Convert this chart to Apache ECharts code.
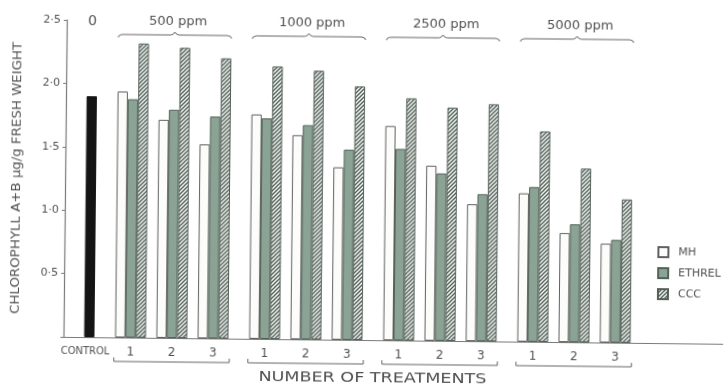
<!DOCTYPE html>
<html>
<head>
<meta charset="utf-8">
<script src="https://cdn.jsdelivr.net/npm/echarts@6/dist/echarts.min.js"></script>
<style>
  html, body { margin: 0; padding: 0; background: #ffffff; overflow: hidden; }
  #chart { width: 725px; height: 385px; transform: rotate(0.6deg); transform-origin: 50% 50%; }
</style>
</head>
<body>
<div id="chart"></div>
<script>
// Chlorophyll content after growth-regulator treatments
const groups = ['500 ppm', '1000 ppm', '2500 ppm', '5000 ppm'];
const treatments = ['1', '2', '3'];
const controlLabel = 'CONTROL';
const controlTopLabel = '0';
const controlValue = 1.90;
const seriesNames = ['MH', 'ETHREL', 'CCC'];
// one value per (concentration, treatment number), in order
const mhValues     = [1.94, 1.72, 1.53, 1.77, 1.61, 1.36, 1.69, 1.38, 1.08, 1.17, 0.86, 0.78];
const ethrelValues = [1.88, 1.80, 1.75, 1.74, 1.69, 1.50, 1.51, 1.32, 1.16, 1.22, 0.93, 0.81];
const cccValues    = [2.32, 2.29, 2.21, 2.15, 2.12, 2.00, 1.91, 1.84, 1.87, 1.66, 1.37, 1.13];
const yMax = 2.5;
const yStep = 0.5;
const yTitle = 'CHLOROPHYLL A+B µg/g FRESH WEIGHT';
const xTitle = 'NUMBER OF TREATMENTS';

const FONT = '"DejaVu Sans", sans-serif';
const INK = '#505050';

// Category slots: each slot holds one bar; empty slots make the gaps
const SLOTS_TOTAL = 64;
const slotLabels = [];
const ctrlData = [], mhData = [], ethData = [], cccData = [];
function addSlot(label) {
  slotLabels.push(label);
  ctrlData.push(null); mhData.push(null); ethData.push(null); cccData.push(null);
  return slotLabels.length - 1;
}
addSlot(''); addSlot('');
const ctrlSlot = addSlot(controlLabel);
ctrlData[ctrlSlot] = controlValue;
addSlot(''); addSlot('');
const groupSpans = [];
groups.forEach((g, gi) => {
  const start = slotLabels.length;
  treatments.forEach((t, ti) => {
    if (ti > 0) addSlot('');
    const k = gi * treatments.length + ti;
    mhData[addSlot('')] = mhValues[k];
    ethData[addSlot(t)] = ethrelValues[k];
    cccData[addSlot('')] = cccValues[k];
  });
  groupSpans.push([start, slotLabels.length - 1]);
  addSlot(''); addSlot('');
});
while (slotLabels.length < SLOTS_TOTAL) addSlot('');

// diagonal hatching for CCC
const hatch = document.createElement('canvas');
hatch.width = 4; hatch.height = 4;
(function () {
  const c = hatch.getContext('2d');
  c.fillStyle = '#f3f5f3';
  c.fillRect(0, 0, 4, 4);
  c.strokeStyle = '#4e5d55';
  c.lineWidth = 1.3;
  c.beginPath();
  c.moveTo(-1, 5); c.lineTo(5, -1);
  c.moveTo(-1, 1); c.lineTo(1, -1);
  c.moveTo(3, 5); c.lineTo(5, 3);
  c.stroke();
})();

function textWidth(str, size) {
  const c = document.createElement('canvas').getContext('2d');
  c.font = size + 'px ' + FONT;
  return c.measureText(str).width;
}

const chart = echarts.init(document.getElementById('chart'), null, { renderer: 'canvas' });

const barBase = {
  type: 'bar',
  barGap: '-100%',
  barCategoryGap: 0,
  silent: true,
  animation: false
};

chart.setOption({
  backgroundColor: '#ffffff',
  animation: false,
  grid: { left: 65, right: 0, top: 23, bottom: 45, outerBoundsMode: 'none', containLabel: false },
  legend: {
    data: seriesNames,
    orient: 'vertical',
    left: 653,
    top: 237,
    icon: 'rect',
    itemWidth: 10,
    itemHeight: 10,
    itemGap: 7,
    selectedMode: false,
    textStyle: { fontFamily: FONT, fontSize: 11, color: INK, lineHeight: 14, padding: [0, 0, 0, 5] }
  },
  xAxis: {
    type: 'category',
    data: slotLabels,
    axisLine: { show: true, lineStyle: { color: '#7a7a7a', width: 1.2 } },
    axisTick: { show: false },
    axisLabel: {
      interval: 0,
      margin: 9,
      fontFamily: FONT,
      fontSize: 12,
      color: INK,
      formatter: v => v === controlLabel ? '{c|' + v + '}' : v,
      rich: {
        c: {
          fontFamily: '"DejaVu Sans Condensed", "Liberation Sans Narrow", "DejaVu Sans", sans-serif',
          fontSize: 11,
          color: INK,
          padding: [0, 8, 0, 0]
        }
      }
    },
    splitLine: { show: false }
  },
  yAxis: {
    type: 'value',
    min: 0,
    max: yMax,
    interval: yStep,
    splitLine: { show: false },
    axisLine: { show: true, lineStyle: { color: '#7a7a7a', width: 1.2 } },
    axisTick: { show: true, length: 3, lineStyle: { color: '#7a7a7a' } },
    axisLabel: {
      margin: 6,
      fontFamily: FONT,
      fontSize: 11,
      color: INK,
      formatter: v => v === 0 ? '' : v.toFixed(1).replace('.', '·')
    }
  },
  series: [
    Object.assign({}, barBase, {
      name: 'Control', data: ctrlData,
      itemStyle: { color: '#141414', borderColor: '#141414', borderWidth: 1 }
    }),
    Object.assign({}, barBase, {
      name: 'MH', data: mhData,
      itemStyle: { color: '#fcfcfb', borderColor: '#606060', borderWidth: 1 }
    }),
    Object.assign({}, barBase, {
      name: 'ETHREL', data: ethData,
      itemStyle: { color: '#8aa395', borderColor: '#536259', borderWidth: 1 }
    }),
    Object.assign({}, barBase, {
      name: 'CCC', data: cccData,
      itemStyle: { color: { image: hatch, repeat: 'repeat' }, borderColor: '#55605a', borderWidth: 1 }
    })
  ]
});

// Annotations placed from the axis scales
const px = i => chart.convertToPixel({ xAxisIndex: 0 }, i);
const slotW = px(1) - px(0);
const yTop = chart.convertToPixel({ yAxisIndex: 0 }, yMax);
const yBase = chart.convertToPixel({ yAxisIndex: 0 }, 0);
const graphics = [];
const lineStyle = { stroke: '#666666', lineWidth: 1, fill: null };

graphics.push({
  type: 'text', x: px(ctrlSlot), y: yTop + 1,
  style: { text: controlTopLabel, fontFamily: FONT, fontSize: 14, fill: INK, align: 'center', verticalAlign: 'middle' }
});

groupSpans.forEach((span, gi) => {
  const xL = px(span[0]) - slotW / 2;
  const xR = px(span[1]) + slotW / 2;
  const xm = (xL + xR) / 2;
  const yb = yTop + 14;
  // curly brace over the concentration
  graphics.push({
    type: 'polyline', silent: true,
    shape: { points: [
      [xL, yb + 3], [xL + 1, yb + 1], [xL + 4, yb], [xm - 4, yb], [xm - 1.5, yb - 1],
      [xm, yb - 3], [xm + 1.5, yb - 1], [xm + 4, yb], [xR - 4, yb], [xR - 1, yb + 1], [xR, yb + 3]
    ] },
    style: lineStyle
  });
  graphics.push({
    type: 'text', x: xm + 3, y: yTop + 1,
    style: { text: groups[gi], fontFamily: FONT, fontSize: 13, fill: INK, align: 'center', verticalAlign: 'middle' }
  });
  // bracket under the treatment numbers
  const yk = yBase + 24;
  graphics.push({
    type: 'polyline', silent: true,
    shape: { points: [[xL - 1, yk - 4], [xL - 1, yk], [xR + 1, yk], [xR + 1, yk - 4]] },
    style: lineStyle
  });
});

// axis titles, stretched to the lettering width
const xFirst = px(groupSpans[0][0]) - slotW / 2;
const xLast = px(groupSpans[groupSpans.length - 1][1]) + slotW / 2;
const xTitleSize = 14;
graphics.push({
  type: 'text', x: (xFirst + xLast) / 2, y: yBase + 38,
  scaleX: 228 / textWidth(xTitle, xTitleSize),
  style: { text: xTitle, fontFamily: FONT, fontSize: xTitleSize, fill: INK, align: 'center', verticalAlign: 'middle' }
});
const yTitleSize = 12;
graphics.push({
  type: 'text', x: 17, y: (yTop + yBase) / 2,
  rotation: Math.PI / 2,
  scaleX: 272 / textWidth(yTitle, yTitleSize),
  style: { text: yTitle, fontFamily: FONT, fontSize: yTitleSize, fill: INK, align: 'center', verticalAlign: 'middle' }
});

chart.setOption({ graphic: { elements: graphics } });
</script>
</body>
</html>
